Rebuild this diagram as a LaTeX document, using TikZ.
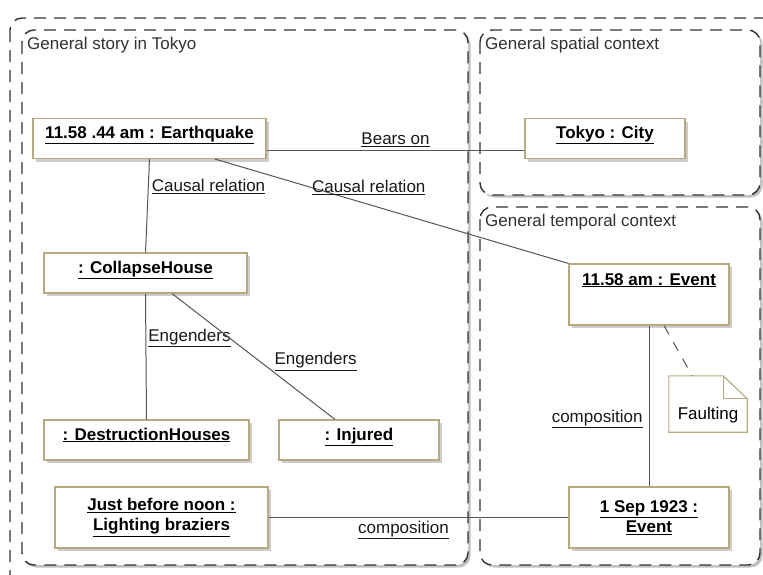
\documentclass[tikz,border=0pt]{standalone}
\usepackage{fontspec}
\setmainfont{Liberation Sans}
\usetikzlibrary{positioning,shadows,calc}
\definecolor{objclr}{RGB}{185,170,125}
\definecolor{lineclr}{RGB}{85,85,85}
\definecolor{shadeclr}{RGB}{205,205,205}
\definecolor{titleclr}{RGB}{50,50,50}
\tikzset{
  obj/.style={rectangle,draw=objclr,fill=white,line width=1.1pt,
              minimum height=40pt,inner sep=3pt,align=center,
              font=\fontsize{17}{20}\selectfont\bfseries,
              drop shadow={shadow xshift=3pt,shadow yshift=-3pt,fill=shadeclr,opacity=1}},
  objline/.style={obj,text height=17pt,text depth=17pt},
  frame/.style={draw=black!80,line width=1.4pt,dash pattern=on 12pt off 8pt,
                rounded corners=12pt,fill=white},
  fshadow/.style={fill=black!25,rounded corners=12pt},
  ftitle/.style={anchor=west,inner sep=1pt,text=titleclr,
                 font=\fontsize{17}{20}\selectfont},
  link/.style={draw=lineclr,line width=1pt},
  lbl/.style={inner sep=2pt,text=black!90,font=\fontsize{17}{20}\selectfont},
}
\begin{document}
\begin{tikzpicture}[x=1pt,y=-1pt]
\useasboundingbox (0,0) rectangle (763,574);
\clip (0,0) rectangle (763,574);

% frames
\draw[frame] (10,18) rectangle (785,595);
\fill[fshadow] (24.5,32.5) rectangle (470.5,567.5);
\draw[frame] (22,30) rectangle (468,565);
\fill[fshadow] (482.5,32.5) rectangle (762.5,197.5);
\draw[frame] (480,30) rectangle (760,195);
\fill[fshadow] (482.5,209.5) rectangle (762.5,567.5);
\draw[frame] (480,207) rectangle (760,565);
\node[ftitle] (storyttl) at (26,45) {General story in Tokyo};
\node[ftitle] (spacettl) at (484,45) {General spatial context};
\node[ftitle] (timettl) at (484,222) {General temporal context};

% objects
\node[objline,minimum width=233pt] (eq) at (149.5,138.5) {\underline{11.58 .44 am : Earthquake}};
\node[objline,minimum width=160pt] (tokyo) at (605,138.5) {\underline{Tokyo : City}};
\node[objline,minimum width=203pt] (collapse) at (145.5,273) {\underline{: CollapseHouse}};
\node[objline,minimum width=205pt] (destr) at (146.5,440) {\underline{: DestructionHouses}};
\node[objline,minimum width=160pt] (injured) at (359,440) {\underline{: Injured}};
\node[obj,minimum width=213pt,minimum height=61pt] (brazier) at (161.5,517.5)
  {\underline{Just before noon :}\\\underline{Lighting braziers}};
\node[obj,minimum width=160pt,text height=18pt,text depth=37pt] (ev1158) at (649,294.5) {\underline{11.58 am : Event}};
\node[obj,minimum width=160pt,minimum height=61pt] (ev1923) at (649,517.5)
  {\underline{1 Sep 1923 :}\\\underline{Event}};
\node[inner sep=3pt,minimum width=78pt,text height=40pt,text depth=10pt,
      font=\fontsize{17}{20}\selectfont] (faulting) at (708,404) {Faulting};
\draw[objclr,line width=1.1pt] (faulting.south west) -- (faulting.north west)
  -- ([xshift=-24pt]faulting.north east) -- ([yshift=-23pt]faulting.north east)
  -- (faulting.south east) -- cycle;
\draw[objclr,line width=1.1pt] ([xshift=-24pt]faulting.north east)
  |- ([yshift=-23pt]faulting.north east);

% connectors
\draw[link] ([yshift=-11.5pt]eq.east) -- node[lbl,above=1pt] (bears) {\underline{Bears on}} ([yshift=-11.5pt]tokyo.west);
\draw[link] (eq.south) -- node[lbl,pos=.29,right=1pt] (causal1) {\underline{Causal relation}} (collapse.north);
\draw[link] ([xshift=65.5pt]eq.south) -- node[lbl,pos=.435,above=7pt] (causal2) {\underline{Causal relation}} (ev1158.north west);
\draw[link] (collapse.south) -- node[lbl,pos=.35,right=0pt] (eng1) {\underline{Engenders}} (destr.north);
\draw[link] ([xshift=26.5pt]collapse.south) -- node[lbl,pos=.54,right=12pt] (eng2) {\underline{Engenders}} ([xshift=-24pt]injured.north);
\draw[link] (brazier.east) -- node[lbl,pos=.45,below=1pt] (comp1) {\underline{composition}} (ev1923.west);
\draw[link] (ev1158.south) -- node[lbl,pos=.58,left=4pt] (comp2) {\underline{composition}} (ev1923.north);
\draw[link,dash pattern=on 10pt off 9pt] ([xshift=15pt]ev1158.south) -- (faulting);
\end{tikzpicture}
\end{document}
